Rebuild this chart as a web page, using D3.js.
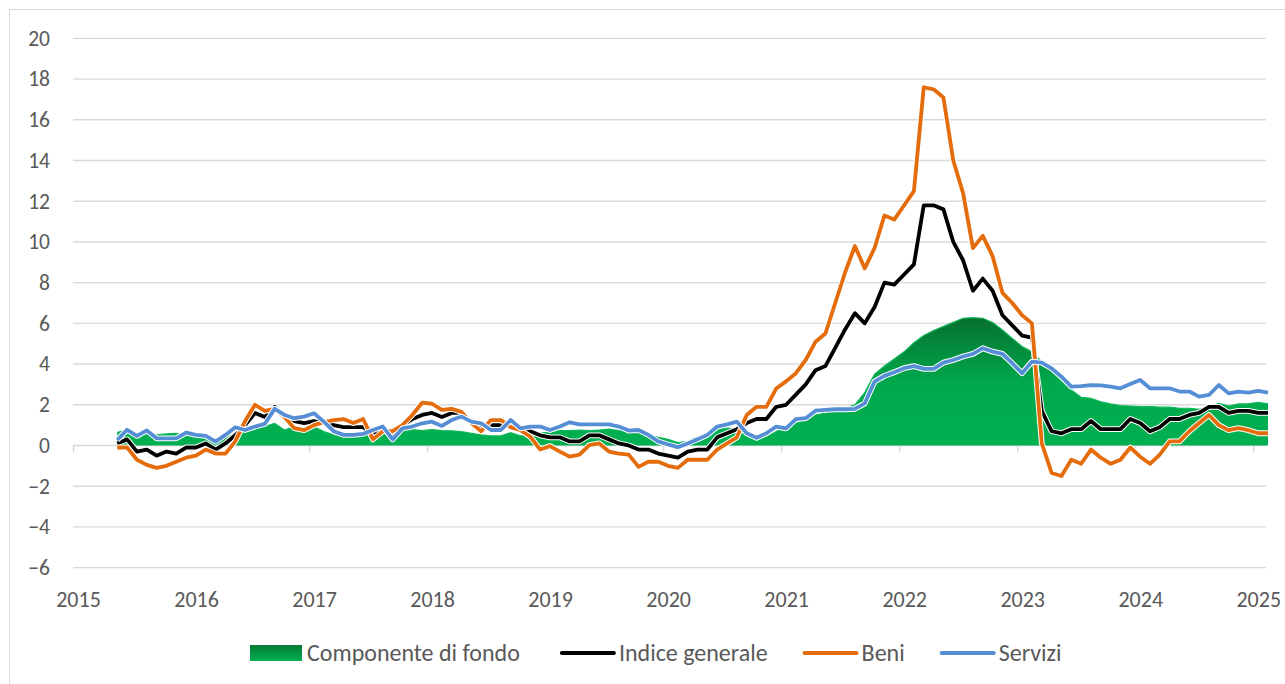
<!DOCTYPE html>
<html>
<head>
<meta charset="utf-8">
<script src="https://cdn.jsdelivr.net/npm/d3@7"></script>
<style>
  body { margin: 0; background: #fff; }
  svg text { font-family: Carlito, "Open Sans", sans-serif; fill: #595959; }
</style>
</head>
<body>
<svg id="chart" width="1285" height="684"></svg>
<script>
// anni sull'asse orizzontale
const years = [2015, 2016, 2017, 2018, 2019, 2020, 2021, 2022, 2023, 2024, 2025]
// mesi (da gennaio 2015) in cui cade il primo dato
const firstMonth = 4.5
const yTicks = [-6, -4, -2, 0, 2, 4, 6, 8, 10, 12, 14, 16, 18, 20]

const seriesNames = ['Componente di fondo', 'Indice generale', 'Beni', 'Servizi']

const componente = [
  0.63, 0.79, 0.57, 0.68, 0.52, 0.57, 0.6, 0.52, 0.47, 0.4, 0.19, 0.35, 0.6,
  0.68, 0.76, 0.93, 1.09, 0.76, 0.93, 0.84, 0.93, 0.68, 0.52, 0.43, 0.43,
  0.47, 0.52, 0.75, 0.73, 0.8, 0.78, 0.73, 0.78, 0.73, 0.72, 0.68, 0.6,
  0.52, 0.47, 0.47, 0.63, 0.47, 0.52, 0.6, 0.68, 0.73, 0.73, 0.76, 0.73,
  0.76, 0.8, 0.73, 0.8, 0.76, 0.52, 0.4, 0.3, 0.14, 0.2, 0.43, 0.6,
  0.8, 0.85, 0.8, 0.45, 0.27, 0.43, 0.68, 0.92, 1.1, 1.22, 1.5, 1.58,
  1.75, 1.83, 2.0, 2.6, 3.5, 3.9, 4.25, 4.6, 5.05, 5.4, 5.65, 5.85,
  6.05, 6.25, 6.28, 6.25, 6.04, 5.67, 5.26, 4.86, 4.6, 4.12, 3.63, 3.14,
  2.73, 2.37, 2.32, 2.15, 2.04, 1.96, 1.94, 1.91, 1.91, 1.88, 1.88, 1.83,
  1.83, 1.78, 1.91, 2.07, 1.94, 2.04, 2.04, 2.12, 2.04
]
const indice = [
  0.1, 0.3, -0.3, -0.2, -0.5, -0.3, -0.4, -0.1, -0.1, 0.1, -0.2, 0.1, 0.5,
  1.0, 1.6, 1.4, 1.9, 1.4, 1.2, 1.1, 1.2, 1.1, 1.0, 0.9, 0.9,
  0.9, 0.5, 0.8, 0.5, 1.0, 1.3, 1.5, 1.6, 1.4, 1.6, 1.6, 1.1,
  0.9, 1.0, 1.0, 1.1, 0.8, 0.7, 0.5, 0.4, 0.4, 0.2, 0.2, 0.5,
  0.5, 0.3, 0.1, 0.0, -0.2, -0.2, -0.4, -0.5, -0.6, -0.3, -0.2, -0.2,
  0.4, 0.6, 0.8, 1.1, 1.3, 1.3, 1.9, 2.0, 2.5, 3.0, 3.7, 3.9,
  4.8, 5.7, 6.5, 6.0, 6.8, 8.0, 7.9, 8.4, 8.9, 11.8, 11.8, 11.6,
  10.0, 9.1, 7.6, 8.2, 7.6, 6.4, 5.9, 5.4, 5.3, 1.7, 0.7, 0.6,
  0.8, 0.8, 1.2, 0.8, 0.8, 0.8, 1.3, 1.1, 0.7, 0.9, 1.3, 1.3,
  1.5, 1.6, 1.9, 1.9, 1.6, 1.7, 1.7, 1.6, 1.6
]
const beni = [
  -0.1, -0.1, -0.7, -0.95, -1.1, -1.0, -0.8, -0.6, -0.5, -0.2, -0.4, -0.4, 0.2,
  1.2, 2.0, 1.7, 1.8, 1.4, 0.85, 0.75, 1.0, 1.15, 1.25, 1.3, 1.1,
  1.3, 0.3, 0.7, 0.7, 1.0, 1.5, 2.1, 2.05, 1.75, 1.8, 1.65, 1.1,
  0.7, 1.25, 1.25, 0.9, 0.75, 0.43, -0.2, -0.03, -0.3, -0.55, -0.45, 0.02,
  0.1, -0.3, -0.4, -0.45, -1.05, -0.8, -0.8, -1.0, -1.1, -0.7, -0.7, -0.7,
  -0.2, 0.1, 0.4, 1.5, 1.9, 1.9, 2.8, 3.15, 3.55, 4.2, 5.1, 5.5,
  7.0, 8.5, 9.8, 8.7, 9.7, 11.3, 11.1, 11.8, 12.5, 17.6, 17.5, 17.1,
  14.0, 12.4, 9.7, 10.3, 9.3, 7.5, 7.0, 6.4, 6.0, 0.1, -1.35, -1.5,
  -0.7, -0.9, -0.2, -0.6, -0.9, -0.7, -0.1, -0.55, -0.9, -0.45, 0.2, 0.2,
  0.7, 1.1, 1.5, 1.0, 0.75, 0.85, 0.75, 0.6, 0.6
]
const servizi = [
  0.27, 0.77, 0.47, 0.74, 0.35, 0.35, 0.35, 0.63, 0.52, 0.47, 0.19, 0.52, 0.89,
  0.76, 0.93, 1.06, 1.8, 1.5, 1.34, 1.42, 1.58, 1.17, 0.7, 0.52, 0.52,
  0.57, 0.76, 0.93, 0.3, 0.84, 0.93, 1.09, 1.17, 0.96, 1.25, 1.42, 1.17,
  1.09, 0.76, 0.76, 1.25, 0.84, 0.93, 0.93, 0.76, 0.93, 1.14, 1.04, 1.04,
  1.04, 1.04, 0.93, 0.73, 0.76, 0.52, 0.2, 0.05, -0.08, 0.1, 0.3, 0.52,
  0.93, 1.04, 1.17, 0.6, 0.38, 0.6, 0.93, 0.84, 1.29, 1.34, 1.71, 1.75,
  1.78, 1.78, 1.8, 2.07, 3.14, 3.42, 3.6, 3.8, 3.9, 3.76, 3.76, 4.07,
  4.2, 4.37, 4.5, 4.78, 4.61, 4.5, 4.04, 3.55, 4.12, 4.07, 3.79, 3.38,
  2.89, 2.92, 2.97, 2.95, 2.89, 2.81, 3.02, 3.22, 2.81, 2.81, 2.81, 2.65,
  2.65, 2.4, 2.48, 2.97, 2.56, 2.65, 2.6, 2.68, 2.6
]

const colors = { fondo: "#00B050", indice: "#000000", beni: "#E46C0A", servizi: "#558ED5" }
const gridColor = "#D9D9D9"

var svg = d3.select("#chart")

// cornice del grafico
svg.append("rect")
  .attr("x", 9.5).attr("y", 9.5)
  .attr("width", 1290).attr("height", 680)
  .attr("fill", "none")
  .attr("stroke", gridColor)

var x = d3.scaleLinear().domain([0, 121.5]).range([73, 1268])
var y = d3.scaleLinear().domain([-6, 20]).range([567.6, 38.4])
var xi = (d, i) => x(firstMonth + i)

var defs = svg.append("defs")
var grad = defs.append("linearGradient")
  .attr("id", "gradFondo")
  .attr("gradientUnits", "userSpaceOnUse")
  .attr("x1", 0).attr("x2", 0)
  .attr("y1", y(6.3)).attr("y2", y(0))
grad.append("stop").attr("offset", 0).attr("stop-color", "#066F2E")
grad.append("stop").attr("offset", 0.5).attr("stop-color", "#00A84C")
grad.append("stop").attr("offset", 1).attr("stop-color", "#00B050")

var gradLeg = defs.append("linearGradient")
  .attr("id", "gradLegenda")
  .attr("x1", 0).attr("x2", 0).attr("y1", 0).attr("y2", 1)
gradLeg.append("stop").attr("offset", 0).attr("stop-color", "#087A36")
gradLeg.append("stop").attr("offset", 1).attr("stop-color", "#00B050")

// griglia orizzontale
svg.append("g")
  .selectAll("line")
  .data(yTicks.filter(v => v !== 0))
  .enter()
  .append("line")
  .attr("x1", x(0))
  .attr("x2", x(121.5) - 2)
  .attr("y1", d => y(d))
  .attr("y2", d => y(d))
  .attr("stroke", gridColor)
  .attr("stroke-width", 1.4)

// asse dello zero con tacche annuali
var xAxis = d3.axisBottom(x)
  .tickValues(years.map(a => (a - 2015) * 12))
  .tickFormat("")
  .tickSize(7)
  .tickSizeOuter(0)

var zeroAxis = svg.append("g")
  .attr("transform", "translate(0," + y(0) + ")")
  .call(xAxis)
zeroAxis.select(".domain").attr("stroke", gridColor).attr("stroke-width", 1.4)
  .attr("d", "M" + x(0) + ",0H" + (x(121.5) - 2))
zeroAxis.selectAll(".tick line").attr("stroke", gridColor).attr("stroke-width", 1.4)

// etichette anni
var xLabels = svg.append("g")
  .attr("transform", "translate(0," + y(-6) + ")")
  .call(d3.axisBottom(x)
    .tickValues(years.map(a => (a - 2015) * 12))
    .tickFormat((d, i) => years[i])
    .tickSize(0)
    .tickPadding(23.4))
xLabels.select(".domain").remove()
xLabels.selectAll("text")
  .attr("dx", 5)
  .style("font-size", "22px")
  .attr("fill", "#595959")

// etichette asse y
var yLabels = svg.append("g")
  .attr("transform", "translate(" + x(0) + ",0)")
  .call(d3.axisLeft(y).tickValues(yTicks).tickSize(0).tickPadding(23))
yLabels.select(".domain").remove()
yLabels.selectAll("text")
  .style("font-size", "21.5px")
  .attr("fill", "#595959")

// componente di fondo (area)
var area = d3.area()
  .x(xi)
  .y0(y(0))
  .y1(d => y(d))

svg.append("path")
  .datum(componente)
  .attr("fill", "url(#gradFondo)")
  .attr("d", area)

svg.append("path")
  .datum(componente)
  .attr("fill", "none")
  .attr("stroke", "#0DB658")
  .attr("stroke-width", 1.2)
  .attr("d", d3.line().x(xi).y(d => y(d)))

// linee
var line = d3.line()
  .x(xi)
  .y(d => y(d))

var lines = [
  { values: indice, color: colors.indice },
  { values: beni, color: colors.beni },
  { values: servizi, color: colors.servizi }
]

lines.forEach(function (s) {
  svg.append("path")
    .datum(s.values)
    .attr("fill", "none")
    .attr("stroke", "#ffffff")
    .attr("stroke-width", 5.8)
    .attr("stroke-linejoin", "round")
    .attr("d", line)
  svg.append("path")
    .datum(s.values)
    .attr("fill", "none")
    .attr("stroke", s.color)
    .attr("stroke-width", 3.8)
    .attr("stroke-linejoin", "round")
    .attr("d", line)
})

// legenda
var legendItems = [
  { name: seriesNames[0], type: "area" },
  { name: seriesNames[1], type: "line", color: colors.indice },
  { name: seriesNames[2], type: "line", color: colors.beni },
  { name: seriesNames[3], type: "line", color: colors.servizi }
]

var legend = svg.append("g").attr("transform", "translate(250,653)")
var cx = 0
legendItems.forEach(function (it, i) {
  var g = legend.append("g").attr("transform", "translate(" + cx + ",0)")
  if (it.type === "area") {
    g.append("rect")
      .attr("x", 0).attr("y", -8)
      .attr("width", 52).attr("height", 16)
      .attr("fill", "url(#gradLegenda)")
  } else {
    g.append("line")
      .attr("x1", 0).attr("x2", 52)
      .attr("y1", 0).attr("y2", 0)
      .attr("stroke", it.color)
      .attr("stroke-width", 4)
      .attr("stroke-linecap", "round")
  }
  var t = g.append("text")
    .attr("x", 57)
    .attr("y", 0)
    .attr("dy", "0.33em")
    .style("font-size", "24px")
    .text(it.name)
  cx += 57 + t.node().getComputedTextLength() + (i === 0 ? 42 : 37)
})
</script>
</body>
</html>
